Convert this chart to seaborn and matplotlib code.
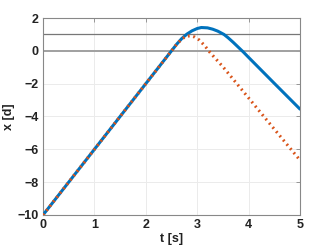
import numpy as np
import pandas as pd
import matplotlib
matplotlib.use("Agg")
import matplotlib.pyplot as plt
import seaborn as sns

# values
t_blue = [0, 0.5, 1.0, 1.5, 2.0, 2.5, 2.6, 2.7, 2.8, 2.9, 3.0, 3.08, 3.2, 3.3, 3.4,
          3.52, 3.6, 3.7, 3.8, 3.9, 4.0, 4.5, 5.0]
x_blue = [-10, -8, -6, -4, -2, 0, 0.4, 0.75, 1.02, 1.22, 1.36, 1.42, 1.4, 1.32, 1.2,
          1.0, 0.8, 0.52, 0.22, -0.08, -0.4, -1.98, -3.55]
t_orange = [0, 0.5, 1.0, 1.5, 2.0, 2.5, 2.6, 2.7, 2.78, 2.87, 2.95, 3.04, 3.15, 3.25,
            3.41, 3.5, 4.0, 4.22, 4.5, 5.0]
x_orange = [-10, -8, -6, -4, -2, 0, 0.4, 0.72, 0.88, 0.92, 0.84, 0.66, 0.3, -0.1,
            -0.66, -0.97, -2.87, -3.71, -4.77, -6.66]
ref_lines = [0, 1]

df_b = pd.DataFrame({"t": t_blue, "x": x_blue})
df_o = pd.DataFrame({"t": t_orange, "x": x_orange})

sns.set_style("white")
plt.rcParams["font.family"] = ["Liberation Sans", "DejaVu Sans"]

fig = plt.figure(figsize=(3.32, 2.49), dpi=100)
ax = fig.add_axes([43 / 332, 1 - 215 / 249, 257 / 332, 197 / 249])

for y in ref_lines:
    ax.axhline(y, color="#777777" if y == 1 else "#a0a0a0", lw=0.9 if y == 1 else 1.4, zorder=1)

sns.lineplot(data=df_b, x="t", y="x", ax=ax, color="#0072BD", lw=2.2, zorder=3)
sns.lineplot(data=df_o, x="t", y="x", ax=ax, color="#D95319", lw=2.2,
             linestyle=(0, (0.6, 1.2)), zorder=4)

ax.set_xlim(0, 5)
ax.set_ylim(-10, 2)
ax.set_xticks(range(0, 6))
ax.set_yticks(range(-10, 3, 2))
ax.grid(True, color="#ebebeb", lw=0.7)
ax.set_axisbelow(True)
for s in ax.spines.values():
    s.set_color("#888888")
    s.set_linewidth(0.8)
ax.tick_params(direction="in", length=3, width=0.6, color="#888888", labelsize=9,
               top=True, right=True, pad=3, labelcolor="#222222")
for lab in ax.get_xticklabels() + ax.get_yticklabels():
    lab.set_fontweight("bold")
ax.set_xlabel("t [s]", fontsize=9, fontweight="bold", labelpad=1, color="#222222")
ax.set_ylabel("x [d]", fontsize=9, fontweight="bold", labelpad=2, color="#222222")

fig.savefig("out.png", dpi=100)
